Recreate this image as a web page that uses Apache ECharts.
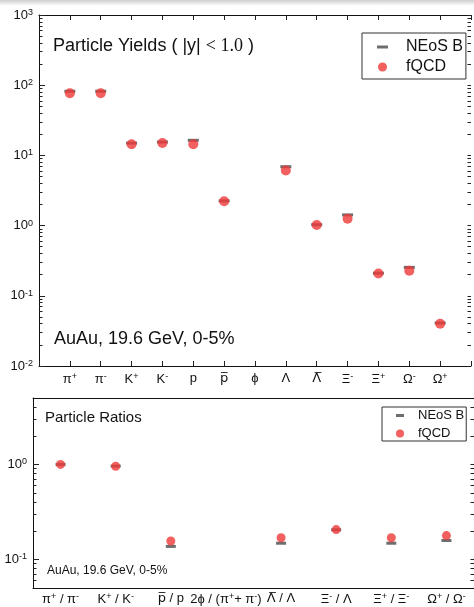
<!DOCTYPE html>
<html>
<head>
<meta charset="utf-8">
<script src="https://cdn.jsdelivr.net/npm/echarts@6/dist/echarts.min.js"></script>
<style>html,body{margin:0;padding:0;background:#fff;}#c{width:474px;height:607px;}</style>
</head>
<body>
<div id="c"></div>
<script>
// ---- data ----
const yieldCats = ['π{s|+}', 'π{s|-}', 'K{s|+}', 'K{s|-}', 'p', '{o|p\u0305}', 'ϕ', 'Λ', '{o|Λ\u0305}', 'Ξ{s|-}', 'Ξ{s|+}', 'Ω{s|-}', 'Ω{s|+}'];
const neosYields = [82, 82, 15.0, 15.5, 16.4, 2.25, null, 6.9, 1.03, 1.42, 0.21, 0.254, 0.041];
const fqcdYields = [77, 77, 14.4, 15.0, 14.4, 2.22, null, 6.1, 1.02, 1.25, 0.208, 0.228, 0.040];
const yieldTicks = [0.01, 0.1, 1, 10, 100, 1000];

const ratioCats = ['π{s|+} / π{s|-}', 'K{s|+} / K{s|-}', '{o|p\u0305} / p', '2ϕ / (π{s|+}+ π{s|-})', '{o|Λ\u0305} / Λ', 'Ξ{s|-} / Λ', 'Ξ{s|+} / Ξ{s|-}', 'Ω{s|+} / Ω{s|-}'];
const neosRatios = [1.0, 0.96, 0.137, null, 0.148, 0.205, 0.148, 0.158];
const fqcdRatios = [1.0, 0.955, 0.156, null, 0.169, 0.206, 0.169, 0.178];
const ratioTicks = [0.1, 1];

// ---- helpers ----
const FONT = 'Liberation Sans';
const RED = '#f03838';
const DASH = '#4a4a4a';
function minors(lo, hi) {
  const out = [];
  for (let k = -3; k <= 3; k++) for (let m = 2; m <= 9; m++) {
    const v = m * Math.pow(10, k);
    if (v > lo * 1.0001 && v < hi * 0.9999) out.push(v);
  }
  return out;
}
const richLbl = {
  s: { fontSize: 9, verticalAlign: 'top', fontFamily: FONT, color: '#111', lineHeight: 14 },
  o: { fontSize: 13, fontFamily: 'DejaVu Sans', color: '#111' }
};
const powFmt = v => '10{s|' + Math.round(Math.log10(v)) + '}';
function logAxis(grid, lo, hi, pos, major, ticks, labels) {
  return {
    type: 'log', logBase: 10, gridIndex: grid, min: lo, max: hi, position: pos,
    axisLine: { show: major, lineStyle: { color: '#111', width: 1 } },
    splitLine: { show: false },
    axisTick: { show: true, inside: true, length: major ? 6 : 3.5, customValues: ticks, lineStyle: { color: '#222', width: 1 } },
    axisLabel: labels ? { show: true, customValues: ticks, formatter: powFmt, fontSize: 13, fontFamily: FONT, color: '#111', margin: 6, rich: richLbl } : { show: false }
  };
}
const minYT = minors(0.01, 1000);
const minRT = minors(0.05, 5);

const legendDash = (w, h, dw) => 'path://M0,0L0,0M' + w + ',' + h + 'L' + w + ',' + h + 'M0,' + (h / 2 - 1.5) + 'L' + dw + ',' + (h / 2 - 1.5) + 'L' + dw + ',' + (h / 2 + 1.5) + 'L0,' + (h / 2 + 1.5) + 'Z';
const legendDot = (w, h, cx, r) => 'path://M0,0L0,0M' + w + ',' + h + 'L' + w + ',' + h + 'M' + (cx - r) + ',' + (h / 2) + 'A' + r + ',' + r + ',0,1,1,' + (cx + r) + ',' + (h / 2) + 'A' + r + ',' + r + ',0,1,1,' + (cx - r) + ',' + (h / 2) + 'Z';

const chart = echarts.init(document.getElementById('c'), null, { renderer: 'canvas' });
chart.setOption({
  animation: false,
  backgroundColor: '#fff',
  textStyle: { fontFamily: FONT },
  graphic: [{
    type: 'rect', left: 0, top: 0, shape: { width: 474, height: 6 }, silent: true,
    style: { fill: new echarts.graphic.LinearGradient(0, 0, 0, 1, [{ offset: 0, color: '#cfcfcf' }, { offset: 1, color: '#ffffff' }]) }
  }],
  title: [
    { text: 'Particle Yields ( |y| {m|< 1.0} )', left: 53, top: 37, padding: 0,
      textStyle: { fontSize: 18, fontWeight: 'normal', fontFamily: FONT, color: '#111',
        rich: { m: { fontSize: 18, fontFamily: 'Liberation Serif', color: '#111' } } } },
    { text: 'AuAu, 19.6 GeV, 0-5%', left: 54, top: 330, padding: 0,
      textStyle: { fontSize: 18, fontWeight: 'normal', fontFamily: FONT, color: '#111' } },
    { text: 'Particle Ratios', left: 45, top: 410, padding: 0,
      textStyle: { fontSize: 15, fontWeight: 'normal', fontFamily: FONT, color: '#111' } },
    { text: 'AuAu, 19.6 GeV, 0-5%', left: 47, top: 565, padding: 0,
      textStyle: { fontSize: 12, fontWeight: 'normal', fontFamily: FONT, color: '#111' } }
  ],
  legend: [
    { left: 362, top: 33, orient: 'vertical', itemWidth: 24, itemHeight: 16, itemGap: 4,
      padding: [6, 3, 4, 15], borderColor: '#333', borderWidth: 1, backgroundColor: '#fff',
      textStyle: { fontSize: 16, fontFamily: FONT, color: '#111' }, selectedMode: false,
      data: [{ name: 'NEoS B', icon: legendDash(24, 16, 11) }, { name: 'fQCD', icon: legendDot(24, 16, 5.5, 4.5) }] },
    { left: 382, top: 407, orient: 'vertical', itemWidth: 17, itemHeight: 12, itemGap: 5,
      padding: [2, 2, 1, 14], borderColor: '#333', borderWidth: 1, backgroundColor: '#fff',
      textStyle: { fontSize: 13, fontFamily: FONT, color: '#111' }, selectedMode: false,
      data: [{ name: 'NEoS B', icon: legendDash(17, 12, 8) }, { name: 'fQCD', icon: legendDot(17, 12, 4, 4) }] }
  ],
  grid: [
    { left: 39, top: 15, width: 435.5, height: 351 },
    { left: 33, top: 398, width: 441, height: 190 }
  ],
  xAxis: [
    { type: 'value', gridIndex: 0, min: 0, max: 14, interval: 1, position: 'bottom',
      axisLine: { show: true, onZero: false, lineStyle: { color: '#111' } }, splitLine: { show: false },
      axisTick: { inside: true, length: 5, lineStyle: { color: '#222' } },
      axisLabel: { fontSize: 13, fontFamily: FONT, color: '#111', margin: 6, rich: richLbl,
        formatter: v => (v >= 1 && v <= yieldCats.length) ? yieldCats[v - 1] : '' } },
    { type: 'value', gridIndex: 0, min: 0, max: 14, interval: 1, position: 'top',
      axisLine: { show: true, onZero: false, lineStyle: { color: '#111' } }, splitLine: { show: false },
      axisTick: { inside: true, length: 5, lineStyle: { color: '#222' } }, axisLabel: { show: false } },
    { type: 'category', gridIndex: 1, data: ratioCats, boundaryGap: true, position: 'bottom',
      axisLine: { show: true, onZero: false, lineStyle: { color: '#111' } },
      axisTick: { inside: true, length: 5, alignWithLabel: true, lineStyle: { color: '#222' } },
      axisLabel: { interval: 0, fontSize: 13, fontFamily: FONT, color: '#111', margin: 4, rich: richLbl } },
    { type: 'category', gridIndex: 1, data: ratioCats, boundaryGap: true, position: 'top',
      axisLine: { show: true, onZero: false, lineStyle: { color: '#111' } },
      axisTick: { inside: true, length: 5, alignWithLabel: true, lineStyle: { color: '#222' } },
      axisLabel: { show: false } }
  ],
  yAxis: [
    logAxis(0, 0.01, 1000, 'left', true, yieldTicks, true),
    logAxis(0, 0.01, 1000, 'left', false, minYT, false),
    logAxis(0, 0.01, 1000, 'right', false, yieldTicks, false),
    logAxis(0, 0.01, 1000, 'right', false, minYT, false),
    logAxis(1, 0.05, 5, 'left', true, ratioTicks, true),
    logAxis(1, 0.05, 5, 'left', false, minRT, false),
    logAxis(1, 0.05, 5, 'right', false, ratioTicks, false),
    logAxis(1, 0.05, 5, 'right', false, minRT, false)
  ],
  series: [
    { name: 'NEoS B', type: 'scatter', xAxisIndex: 0, yAxisIndex: 0, symbol: 'rect', symbolSize: [11, 3],
      itemStyle: { color: DASH }, z: 2,
      data: neosYields.map((v, i) => [i + 1, v]).filter(d => d[1] != null) },
    { name: 'fQCD', type: 'scatter', xAxisIndex: 0, yAxisIndex: 0, symbol: 'circle', symbolSize: 10,
      itemStyle: { color: RED }, z: 3,
      data: fqcdYields.map((v, i) => [i + 1, v]).filter(d => d[1] != null) },
    { name: 'NEoS B', type: 'scatter', xAxisIndex: 2, yAxisIndex: 4, symbol: 'rect', symbolSize: [10, 3],
      itemStyle: { color: DASH }, z: 2,
      data: neosRatios.map(v => v == null ? '-' : v) },
    { name: 'fQCD', type: 'scatter', xAxisIndex: 2, yAxisIndex: 4, symbol: 'circle', symbolSize: 9,
      itemStyle: { color: RED }, z: 3,
      data: fqcdRatios.map(v => v == null ? '-' : v) }
  ]
});
</script>
</body>
</html>
